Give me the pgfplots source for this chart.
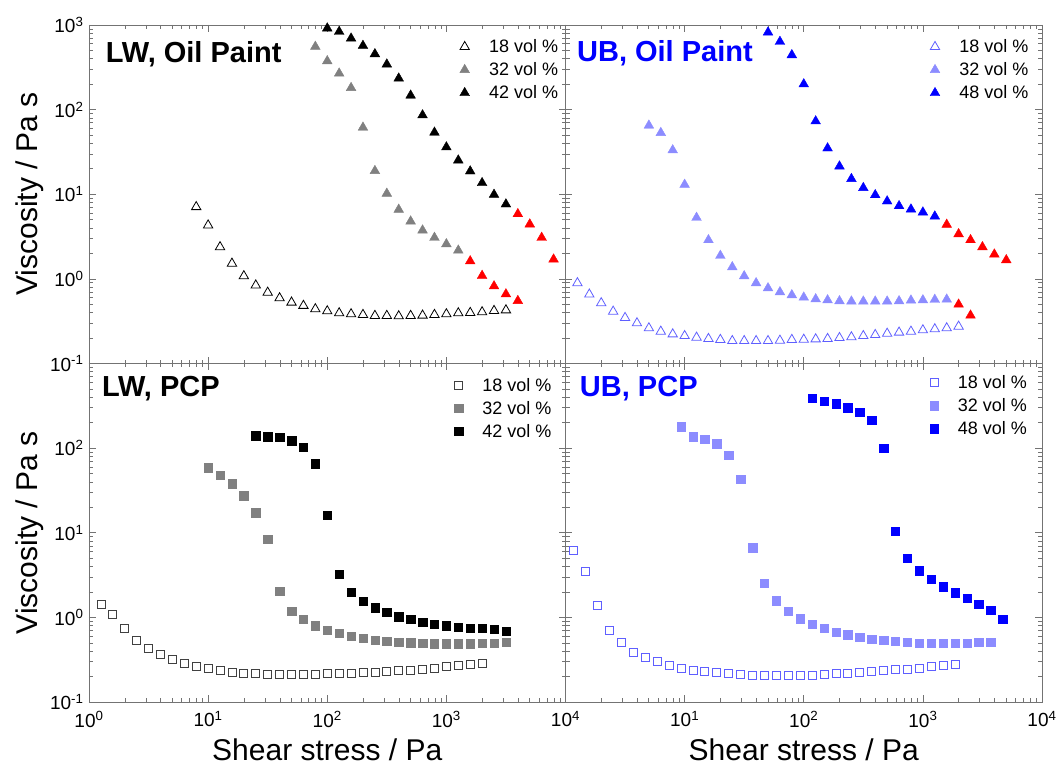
\documentclass[border=0pt]{standalone}
\usepackage{fontspec}
\setmainfont{Liberation Sans}
\usepackage{pgfplots}
\pgfplotsset{compat=1.18}

\definecolor{lgray}{RGB}{128,128,128}
\definecolor{lblue}{RGB}{140,140,255}
\definecolor{oblue}{RGB}{95,95,255}
\definecolor{pblue}{RGB}{0,0,255}

\newcommand{\e}[1]{10\textsuperscript{#1}}

\pgfplotsset{
  legend image code/.code={\draw[mark repeat=2,mark phase=2,#1]
    plot coordinates {(-6pt,0pt)(0pt,0pt)(6pt,0pt)};},
}
\newcommand{\panel}[1]{\begin{axis}[
    xmode=log, ymode=log, xmin=1, xmax=1e4, ymin=0.1, ymax=1000,
    scale only axis, width=476.5pt, height=338.5pt,
    axis line style={black!55, line width=0.8pt},
    tick align=inside, major tick length=7pt, minor tick length=4pt,
    tick style={black!55, line width=0.6pt},
    xtick={1,10,100,1000,10000}, ytick={0.1,1,10,100,1000},
    tick label style={font=\fontsize{19}{22}\selectfont},
    yticklabel style={xshift=-2pt},
    xticklabel style={yshift=-6pt},
    legend cell align=left,
    legend style={draw=none, fill=none, inner sep=0pt,
      font=\fontsize{18}{21}\selectfont,
      nodes={inner sep=1.5pt}, row sep=5.5pt, column sep=18pt},
    x label style={at={(axis description cs:0.5,0)}, anchor=center, yshift=-48pt,
      font=\fontsize{30}{34}\selectfont},
    y label style={at={(axis description cs:-0.124,0.5)}, anchor=center,
      font=\fontsize{30}{34}\selectfont},
    #1]}
\tikzset{
  tri/.style={only marks, mark=triangle*, mark size=5.6pt},
  otri/.style={only marks, mark=triangle, mark size=5.4pt, mark options={line width=0.8pt}},
  sq/.style={only marks, mark=square*, mark size=4.2pt},
  osq/.style={only marks, mark=square, mark size=4pt, mark options={line width=0.8pt}},
  ttl/.style={anchor=west, font=\bfseries\fontsize{29}{32}\selectfont},
}

\begin{document}
\begin{tikzpicture}

% LW, Oil Paint
\panel{at={(0pt,338.5pt)}, anchor=south west,
  xticklabels={},
  yticklabels={\e{-1},\e{0},\e{1},\e{2},\e{3}},
  ylabel={Viscosity / Pa s},
  legend style={at={(axis description cs:0.988,0.962)}, anchor=north east}}
\addplot[otri, black] table {
x y
7.943 7.08
10 4.30
12.59 2.38
15.85 1.52
19.95 1.08
25.12 0.84
31.62 0.69
39.81 0.593
50.12 0.527
63.10 0.482
79.43 0.440
100 0.416
125.9 0.394
158.5 0.384
199.5 0.377
251.2 0.367
316.2 0.367
398.1 0.363
501.2 0.367
631.0 0.370
794.3 0.377
1000 0.384
1259 0.394
1585 0.398
1995 0.405
2512 0.420
3162 0.427
};
\addlegendentry{18 vol \%}
\addplot[tri, lgray] table {
x y
79.43 555
100 375
125.9 268
158.5 181
199.5 61.5
251.2 18.9
316.2 10.2
398.1 6.59
501.2 4.79
631.0 3.75
794.3 3.07
1000 2.58
1259 2.17
};
\addlegendentry{32 vol \%}
\addplot[tri, black] table {
x y
100 914
125.9 834
158.5 695
199.5 569
251.2 454
316.2 343
398.1 234
501.2 147
631.0 86
794.3 53.7
1000 36
1259 25.2
1585 18.7
1995 13.6
2512 9.9
3162 7.62
};
\addlegendentry{42 vol \%}
\addplot[tri, red, forget plot] table {
x y
1585 1.62
1995 1.09
2512 0.82
3162 0.66
3981 0.55
};
\addplot[tri, red, forget plot] table {
x y
3981 5.85
5012 4.42
6310 3.07
7943 1.70
};
\node[ttl, black] at (axis description cs:0.028,0.915) {LW, Oil Paint};
\end{axis}

% UB, Oil Paint
\panel{at={(476.5pt,338.5pt)}, anchor=south west,
  xticklabels={}, yticklabels={},
  legend style={at={(axis description cs:0.975,0.962)}, anchor=north east}}
\addplot[otri, oblue] table {
x y
1.259 0.893
1.585 0.656
1.995 0.518
2.512 0.412
3.162 0.347
3.981 0.300
5.012 0.262
6.310 0.239
7.943 0.222
10 0.212
12.59 0.203
15.85 0.196
19.95 0.191
25.12 0.185
31.62 0.185
39.81 0.185
50.12 0.185
63.10 0.187
79.43 0.191
100 0.192
125.9 0.194
158.5 0.196
199.5 0.201
251.2 0.205
316.2 0.212
398.1 0.218
501.2 0.226
631.0 0.233
794.3 0.239
1000 0.248
1259 0.255
1585 0.262
1995 0.274
};
\addlegendentry{18 vol \%}
\addplot[tri, lblue] table {
x y
5.012 65
6.310 53.2
7.943 33.2
10 13.0
12.59 5.29
15.85 2.88
19.95 1.88
25.12 1.38
31.62 1.08
39.81 0.893
50.12 0.778
63.10 0.698
79.43 0.644
100 0.604
125.9 0.577
158.5 0.561
199.5 0.547
251.2 0.542
316.2 0.542
398.1 0.542
501.2 0.542
631.0 0.547
794.3 0.557
1000 0.561
1259 0.568
1585 0.572
};
\addlegendentry{32 vol \%}
\addplot[tri, pblue] table {
x y
50.12 819
63.10 635
79.43 442
100 200
125.9 73
158.5 35
199.5 21.4
251.2 15.2
316.2 11.9
398.1 9.8
501.2 8.27
631.0 7.27
794.3 6.64
1000 6.12
1259 5.49
};
\addlegendentry{48 vol \%}
\addplot[tri, red, forget plot] table {
x y
1995 0.499
2512 0.370
};
\addplot[tri, red, forget plot] table {
x y
1585 4.38
1995 3.39
2512 2.88
3162 2.38
3981 1.95
5012 1.67
};
\node[ttl, pblue] at (axis description cs:0.017,0.917) {UB, Oil Paint};
\end{axis}

% LW, PCP
\panel{at={(0pt,0pt)}, anchor=south west,
  xticklabels={\e{0},\e{1},\e{2},\e{3},\e{4}},
  yticklabels={\e{-1},\e{0},\e{1},\e{2},},
  xlabel={Shear stress / Pa}, ylabel={Viscosity / Pa s},
  legend style={at={(axis description cs:0.974,0.962)}, anchor=north east}}
\addplot[osq, black!75] table {
x y
1.259 1.44
1.585 1.09
1.995 0.733
2.512 0.534
3.162 0.425
3.981 0.361
5.012 0.318
6.310 0.288
7.943 0.263
10 0.247
12.59 0.236
15.85 0.225
19.95 0.219
25.12 0.215
31.62 0.213
39.81 0.211
50.12 0.211
63.10 0.211
79.43 0.211
100 0.215
125.9 0.215
158.5 0.217
199.5 0.221
251.2 0.225
316.2 0.228
398.1 0.234
501.2 0.238
631.0 0.244
794.3 0.249
1000 0.261
1259 0.268
1585 0.275
1995 0.288
};
\addlegendentry{18 vol \%}
\addplot[sq, lgray] table {
x y
10 59
12.59 47.9
15.85 37.8
19.95 27.3
25.12 17.2
31.62 8.37
39.81 2.03
50.12 1.18
63.10 0.946
79.43 0.796
100 0.701
125.9 0.647
158.5 0.601
199.5 0.564
251.2 0.534
316.2 0.520
398.1 0.510
501.2 0.501
631.0 0.497
794.3 0.488
1000 0.488
1259 0.488
1585 0.488
1995 0.497
2512 0.497
3162 0.510
};
\addlegendentry{32 vol \%}
\addplot[sq, black] table {
x y
25.12 140
31.62 137
39.81 134
50.12 122
63.10 103
79.43 65.8
100 16.0
125.9 3.23
158.5 2.0
199.5 1.56
251.2 1.30
316.2 1.15
398.1 1.02
501.2 0.946
631.0 0.873
794.3 0.834
1000 0.796
1259 0.768
1585 0.747
1995 0.741
2512 0.727
3162 0.690
};
\addlegendentry{42 vol \%}
\node[ttl, black] at (axis description cs:0.02,0.925) {LW, PCP};
\end{axis}

% UB, PCP
\panel{at={(476.5pt,0pt)}, anchor=south west,
  xticklabels={,\e{1},\e{2},\e{3},\e{4}}, yticklabels={},
  xlabel={Shear stress / Pa},
  legend style={at={(axis description cs:0.972,0.97)}, anchor=north east}}
\addplot[osq, oblue] table {
x y
1.175 6.15
1.479 3.47
1.862 1.40
2.344 0.708
2.951 0.500
3.715 0.388
4.677 0.337
5.888 0.299
7.413 0.270
9.333 0.251
11.75 0.238
14.79 0.228
18.62 0.221
23.44 0.215
29.51 0.211
37.15 0.207
46.77 0.206
58.88 0.206
74.13 0.206
93.33 0.206
117.5 0.209
147.9 0.213
186.2 0.215
234.4 0.217
295.1 0.221
371.5 0.228
467.7 0.234
588.8 0.240
741.3 0.244
933.3 0.251
1175 0.263
1479 0.270
1862 0.278
};
\addlegendentry{18 vol \%}
\addplot[sq, lblue] table {
x y
9.333 180
11.75 137
14.79 128
18.62 113
23.44 82.6
29.51 42.6
37.15 6.67
46.77 2.52
58.88 1.57
74.13 1.19
93.33 0.964
117.5 0.834
147.9 0.741
186.2 0.670
234.4 0.623
295.1 0.585
371.5 0.553
467.7 0.538
588.8 0.524
741.3 0.510
933.3 0.497
1175 0.497
1479 0.497
1862 0.497
2344 0.497
2951 0.510
3715 0.510
};
\addlegendentry{32 vol \%}
\addplot[sq, pblue] table {
x y
117.5 386
147.9 360
186.2 334
234.4 300
295.1 267
371.5 214
467.7 100
588.8 10.5
741.3 4.99
933.3 3.56
1175 2.84
1479 2.30
1862 1.95
2344 1.69
2951 1.43
3715 1.21
4677 0.946
};
\addlegendentry{48 vol \%}
\node[ttl, pblue] at (axis description cs:0.023,0.925) {UB, PCP};
\end{axis}

\pgfresetboundingbox
\path[use as bounding box] (-89pt,-72pt) rectangle (970pt,702pt);
\end{tikzpicture}
\end{document}
